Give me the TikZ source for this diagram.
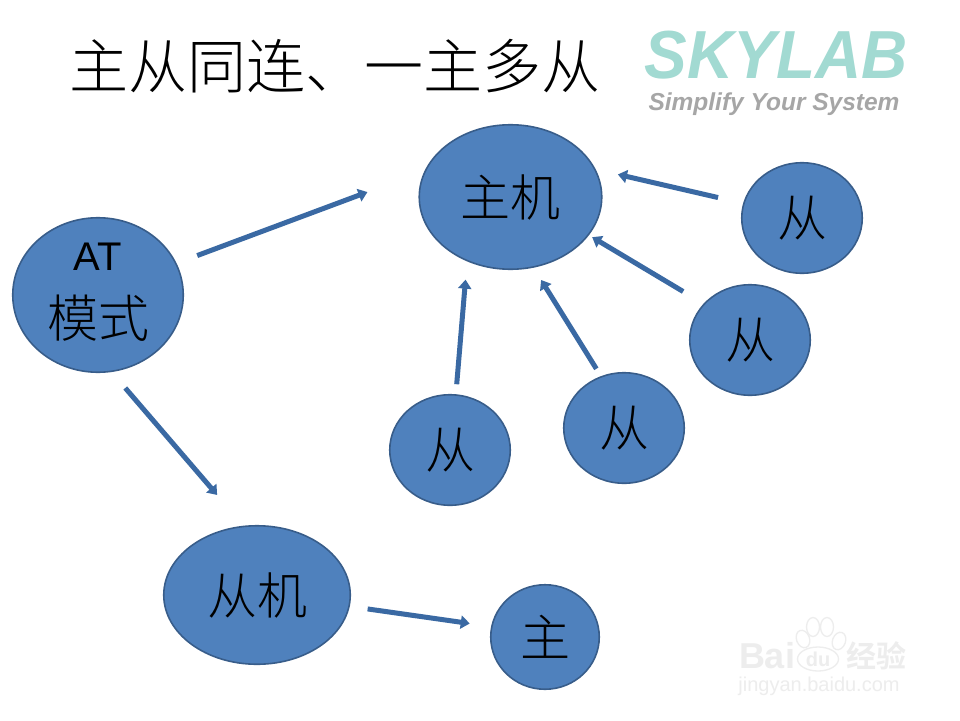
\documentclass[tikz,border=0pt]{standalone}
\usepackage{fontspec}
\setmainfont{Liberation Sans}
\newfontfamily\cjk{Noto Sans CJK SC Light}
\usetikzlibrary{shapes.geometric,arrows.meta}
\definecolor{bluefill}{HTML}{4F81BD}
\definecolor{blueline}{HTML}{385D8A}
\definecolor{arrowblue}{HTML}{3A69A3}
\definecolor{logoteal}{HTML}{A2DAD2}
\definecolor{logogray}{HTML}{A6A6A6}
\definecolor{wmark}{HTML}{EDEDED}
\tikzset{
  blob/.style={ellipse,draw=blueline,fill=bluefill,line width=1.6pt,inner sep=0pt,text=black,align=center},
  link/.style={draw=arrowblue,line width=5pt,-{Triangle[length=9pt,width=13pt]}},
  labelbig/.style={font=\cjk\fontsize{50}{54}\selectfont},
  wm/.style={text=wmark,inner sep=0pt},
  pawtoe/.style={ellipse,draw=wmark,line width=1.3pt,inner sep=0pt}
}
\begin{document}
\begin{tikzpicture}[x=1pt,y=-1pt]
\useasboundingbox (0,0) rectangle (960,720);
\fill[white] (0,0) rectangle (960,720);
\node[inner sep=0pt,font=\cjk\fontsize{59}{61}\selectfont] (title) at (335,66) {主从同连、一主多从};
% logo
\node[inner sep=0pt,text=logoteal,font=\bfseries\itshape\fontsize{68}{70}\selectfont,xscale=0.94] (logomain) at (776,55) {SKYLAB};
\node[inner sep=0pt,text=logogray,font=\bfseries\itshape\fontsize{24.5}{26}\selectfont] (logosub) at (774,104) {Simplify Your System};
% watermark
\node[wm,font=\bfseries\fontsize{36}{38}\selectfont] (wbai) at (767,656) {Bai};
\node[pawtoe,minimum width=41pt,minimum height=24pt] (wpad) at (818,659) {};
\node[wm,font=\bfseries\fontsize{20}{22}\selectfont] (wdu) at (818,659) {du};
\node[pawtoe,minimum width=13pt,minimum height=18pt,rotate=20] (wt1) at (803,639) {};
\node[pawtoe,minimum width=13pt,minimum height=19pt] (wt2) at (813,627) {};
\node[pawtoe,minimum width=13pt,minimum height=19pt] (wt3) at (827,627) {};
\node[pawtoe,minimum width=13pt,minimum height=18pt,rotate=-20] (wt4) at (839,641) {};
\node[wm,font=\cjk\bfseries\fontsize{30}{32}\selectfont] (wjy) at (876,656) {经验};
\node[wm,font=\fontsize{20}{22}\selectfont] (wurl) at (819,686) {jingyan.baidu.com};
% nodes
\node[blob,labelbig,minimum width=182.5pt,minimum height=144.5pt] (host) at (510.5,197) {主机};
\node[blob,labelbig,minimum width=120.5pt,minimum height=110.5pt] (s1) at (802,218) {从};
\node[blob,labelbig,minimum width=120.5pt,minimum height=110.5pt] (s2) at (750,340) {从};
\node[blob,labelbig,minimum width=120.5pt,minimum height=110.5pt] (s3) at (624,428) {从};
\node[blob,labelbig,minimum width=120.5pt,minimum height=110.5pt] (s4) at (450,450) {从};
\node[blob,minimum width=170.5pt,minimum height=154.5pt] (at) at (98,295) {};
\node[inner sep=0pt,font=\fontsize{40}{42}\selectfont] (atline) at (98,257) {AT};
\node[inner sep=0pt,font=\cjk\fontsize{51}{54}\selectfont] (atmode) at (98,318) {模式};
\node[blob,labelbig,minimum width=186.5pt,minimum height=138.5pt] (slave) at (257,595) {从机};
\node[blob,labelbig,minimum width=108.5pt,minimum height=104.5pt] (master) at (545,637) {主};
% connectors
\draw[link,shorten <=22pt,shorten >=61pt] (at.22.5) -- (host.163);
\draw[link,shorten <=21pt,shorten >=40.5pt] (at.-80.2) -- (slave.101.1);
\draw[link,shorten <=18pt,shorten >=21.5pt] (slave.-7.8) -- (master.169.4);
\draw[link,shorten <=10pt,shorten >=18.3pt] (s4.84.9) -- (host.236.9);
\draw[link,shorten <=8.6pt,shorten >=14.4pt] (s3.114.4) -- (host.-72.5);
\draw[link,shorten <=23.7pt,shorten >=3.8pt] (s2.142.3) -- (host.-26.7);
\draw[link,shorten <=25.7pt,shorten >=22.8pt] (s1.166.6) -- (host.18.5);
\end{tikzpicture}
\end{document}
